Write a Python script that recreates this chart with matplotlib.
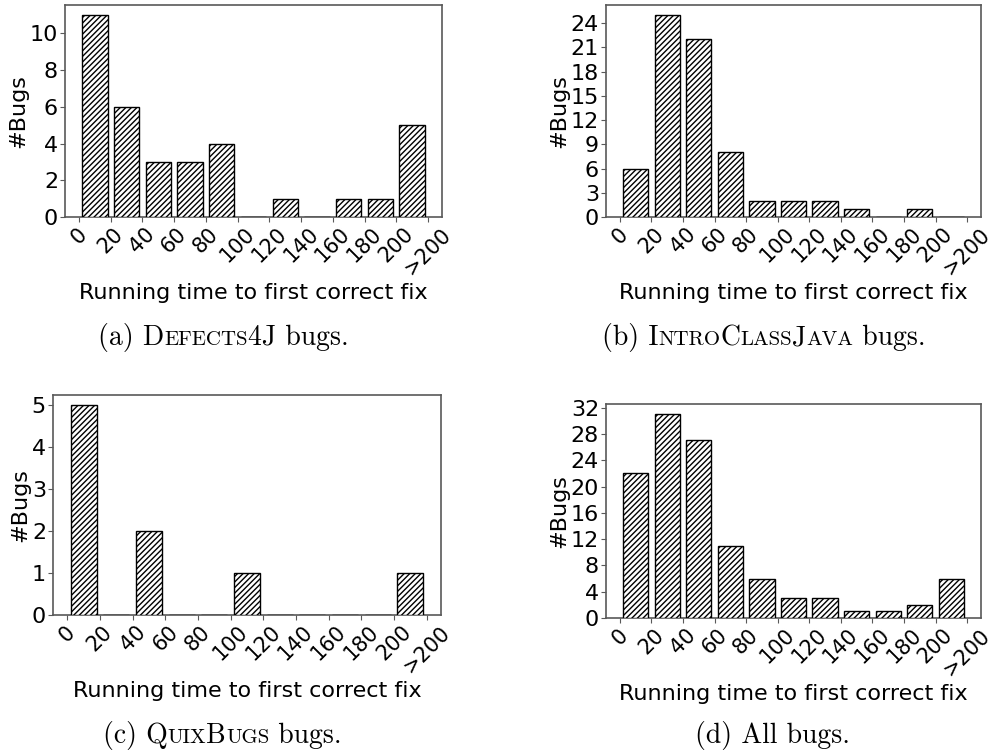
import numpy as np
import matplotlib
matplotlib.use('Agg')
import matplotlib.pyplot as plt
from matplotlib.text import Annotation

# bins of running time (minutes), ticks at the bin edges
tick_labels = ['0', '20', '40', '60', '80', '100', '120', '140', '160', '180', '200', '>200']

defects4j = [11, 6, 3, 3, 4, 0, 1, 0, 1, 1, 5]
introclass = [6, 25, 22, 8, 2, 2, 2, 1, 0, 1, 0]
quixbugs = [5, 0, 2, 0, 0, 1, 0, 0, 0, 0, 1]
all_bugs = [22, 31, 27, 11, 6, 3, 3, 1, 1, 2, 6]

yticks_a = [0, 2, 4, 6, 8, 10]
yticks_b = [0, 3, 6, 9, 12, 15, 18, 21, 24]
yticks_c = [0, 1, 2, 3, 4, 5]
yticks_d = [0, 4, 8, 12, 16, 20, 24, 28, 32]

W, H = 995, 755
fig = plt.figure(figsize=(W / 100, H / 100), dpi=100)


def px_axes(left, top, right, bottom):
    return fig.add_axes([left / W, 1 - bottom / H, (right - left) / W, (bottom - top) / H])


def draw_hist(ax, counts, yticks):
    x = np.arange(len(counts)) + 0.5
    ax.bar(x, counts, width=0.8, color='white', edgecolor='black',
           linewidth=1.0, hatch='//////', zorder=3)
    ax.set_xticks(np.arange(len(tick_labels)))
    ax.set_xticklabels(tick_labels, rotation=45, fontsize=15)
    ax.set_yticks(yticks)
    ax.tick_params(axis='y', labelsize=16, pad=1.5)
    ax.tick_params(axis='x', pad=1.5)
    ax.tick_params(axis='both', color='0.35')
    for s in ax.spines.values():
        s.set_color('0.35')
        s.set_linewidth(1.2)
    ax.set_xlabel('Running time to first correct fix', fontsize=16, labelpad=3)
    ax.set_ylabel('#Bugs', fontsize=16, labelpad=1)


ax_a = px_axes(65, 5, 442, 217)
draw_hist(ax_a, defects4j, yticks_a)
ax_b = px_axes(606, 5, 981, 217)
draw_hist(ax_b, introclass, yticks_b)
ax_c = px_axes(53, 395, 441, 615)
draw_hist(ax_c, quixbugs, yticks_c)
ax_d = px_axes(606, 404, 981, 618)
draw_hist(ax_d, all_bugs, yticks_d)

# captions in a LaTeX-like serif with emulated small caps
big, small = 20, 15


def caption_chain(x, y, parts):
    prev = fig.text(x / W, 1 - y / H, parts[0][0], fontsize=parts[0][1],
                    family='cmr10', ha='left', va='baseline')
    for txt, sz in parts[1:]:
        prev = fig.add_artist(Annotation(
            txt, xy=(1, 1 - y / H), xycoords=(prev, 'figure fraction'),
            fontsize=sz, family='cmr10', ha='left', va='baseline'))


caption_chain(98, 345, [('(a) D', big), ('EFECTS', small), ('4J bugs.', big)])
caption_chain(602, 345, [('(b) I', big), ('NTRO', small), ('C', big), ('LASS', small),
                         ('J', big), ('AVA', small), (' bugs.', big)])
caption_chain(103, 743, [('(c) Q', big), ('UIX', small), ('B', big), ('UGS', small),
                         (' bugs.', big)])
caption_chain(695, 743, [('(d) All bugs.', big)])

fig.savefig('out.png', dpi=100)
